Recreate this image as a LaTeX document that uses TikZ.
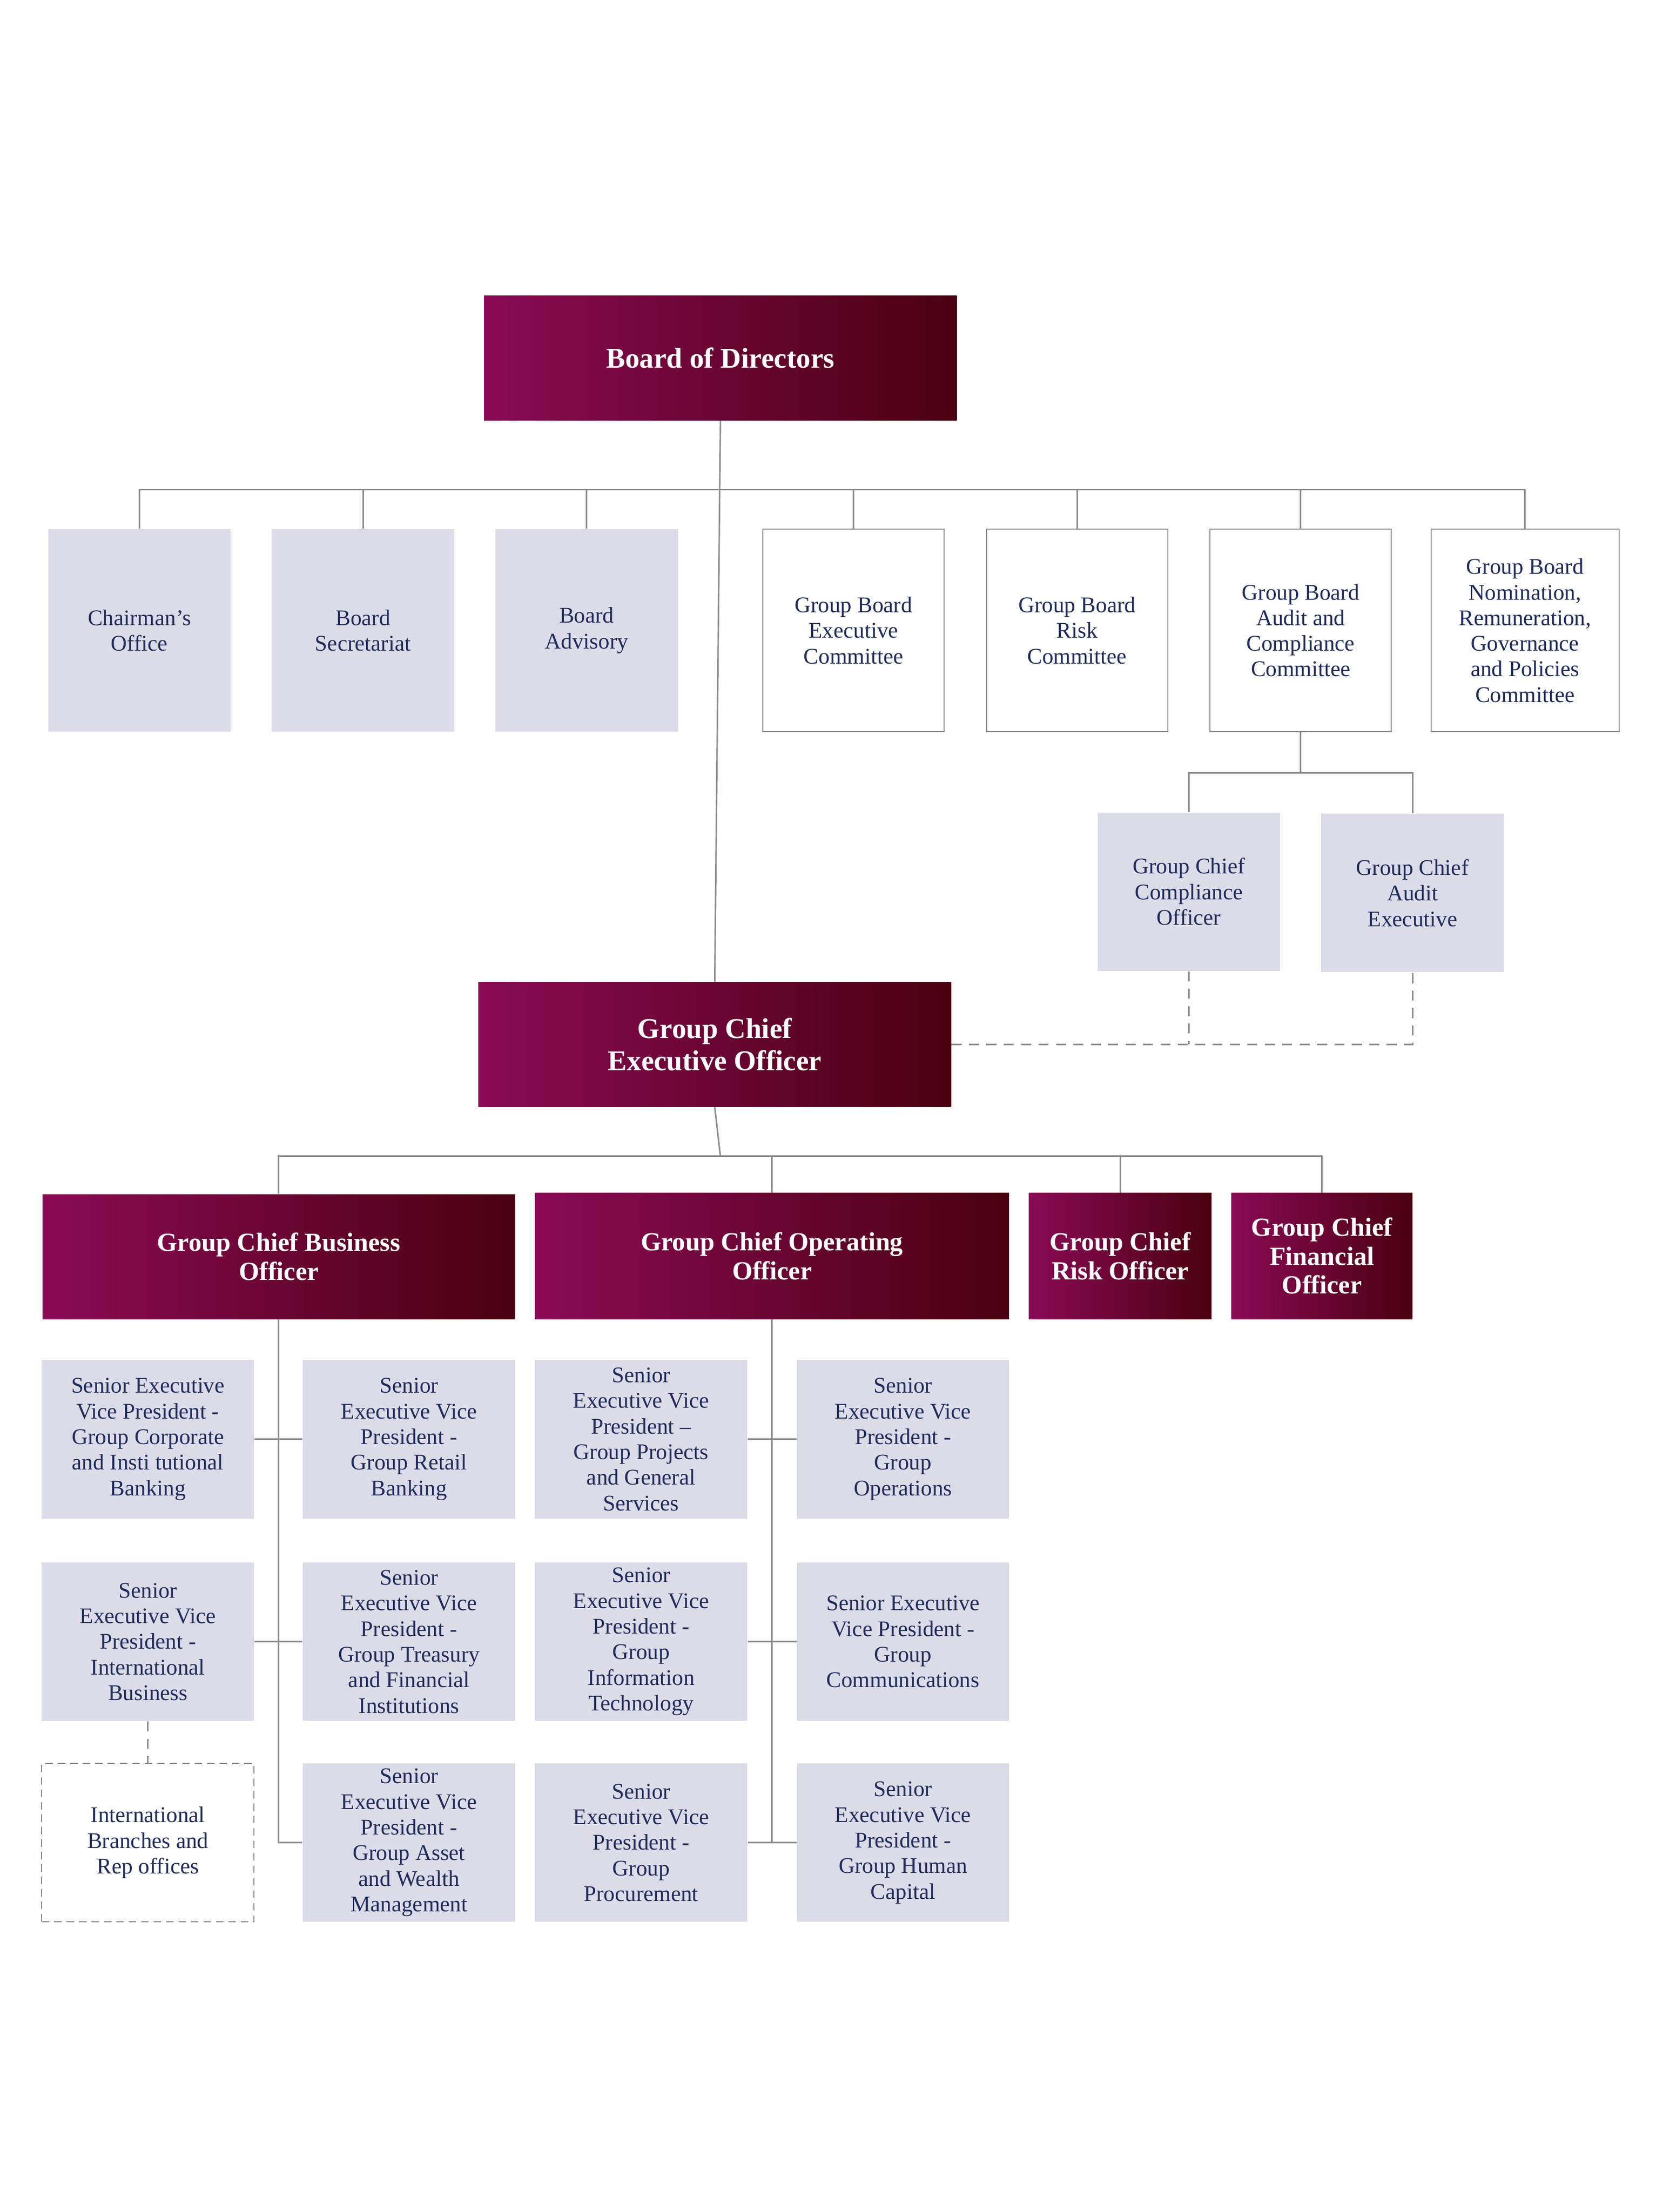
\documentclass[tikz,border=0pt]{standalone}
\usepackage{fontspec}
\setmainfont{Liberation Serif}
\usetikzlibrary{positioning}
\definecolor{lav}{HTML}{DCDCE8}
\definecolor{navy}{HTML}{1F2A5C}
\definecolor{wine}{HTML}{8A0A55}
\definecolor{maroon}{HTML}{4A0010}
\definecolor{wire}{HTML}{8C8C8C}

\tikzset{
  head/.style={left color=wine, right color=maroon, text=white, font=\fontsize{10.5}{11.6}\selectfont\bfseries, align=center, inner sep=0pt},
  lavbox/.style={fill=lav, text=navy, font=\fontsize{9}{10.3}\selectfont, align=center, inner sep=0pt, minimum width=3cm, minimum height=2.24cm},
  comm/.style={draw=wire, fill=white, text=navy, font=\fontsize{9}{10.3}\selectfont, align=center, inner sep=0pt, minimum width=2.56cm, minimum height=2.86cm},
  top/.style={lavbox, minimum width=2.58cm, minimum height=2.86cm},
  line/.style={draw=wire, line width=0.6pt},
  dline/.style={line, dash pattern=on 4pt off 3pt}
}

\begin{document}
\begin{tikzpicture}[x=0.02cm, y=-0.02cm]
\useasboundingbox (0,0) rectangle (1170,1563);

% board level
\node[head, minimum width=6.68cm, minimum height=1.76cm, font=\fontsize{11.5}{13}\selectfont\bfseries] (bod) at (509,253) {Board of Directors};
\node[top] (chair) at (98.5,445.5) {Chairman's\\Office};
\node[top] (sec) at (256.5,445.5) {Board\\Secretariat};
\node[top] (adv) at (414.5,445.5) {Board\\Advisory};
\node[comm] (exec) at (603,445.5) {Group Board\\Executive\\Committee};
\node[comm] (risk) at (761,445.5) {Group Board\\Risk\\Committee};
\node[comm] (audit) at (919,445.5) {Group Board\\Audit and\\Compliance\\Committee};
\node[comm, minimum width=2.66cm] (nom) at (1077.5,445.5) {Group Board\\Nomination,\\Remuneration,\\Governance\\and Policies\\Committee};

\node[top, minimum height=2.24cm] (gcco) at (840,630) {Group Chief\\Compliance\\Officer};
\node[top, minimum height=2.24cm] (gcae) at (998,631) {Group Chief\\Audit\\Executive};

\node[head, minimum width=6.68cm, minimum height=1.76cm, font=\fontsize{11.5}{13}\selectfont\bfseries] (ceo) at (505,738) {Group Chief\\Executive Officer};

% chief officers
\node[head, minimum width=6.68cm, minimum height=1.76cm] (gcbo) at (197,888) {Group Chief Business\\Officer};
\node[head, minimum width=6.7cm, minimum height=1.78cm] (gcoo) at (545.5,887.5) {Group Chief Operating\\Officer};
\node[head, minimum width=2.58cm, minimum height=1.78cm] (gcro) at (791.5,887.5) {Group Chief\\Risk Officer};
\node[head, minimum width=2.56cm, minimum height=1.78cm] (gcfo) at (934,887.5) {Group Chief\\Financial\\Officer};

% senior executive vice presidents
\node[lavbox] (corp) at (104.5,1017) {Senior Executive\\Vice President -\\Group Corporate\\and Insti tutional\\Banking};
\node[lavbox] (retail) at (289,1017) {Senior\\Executive Vice\\President -\\Group Retail\\Banking};
\node[lavbox] (proj) at (453,1017) {Senior\\Executive Vice\\President –\\Group Projects\\and General\\Services};
\node[lavbox] (ops) at (638,1017) {Senior\\Executive Vice\\President -\\Group\\Operations};
\node[lavbox] (intl) at (104.5,1160) {Senior\\Executive Vice\\President -\\International\\Business};
\node[lavbox] (treas) at (289,1160) {Senior\\Executive Vice\\President -\\Group Treasury\\and Financial\\Institutions};
\node[lavbox] (it) at (453,1160) {Senior\\Executive Vice\\President -\\Group\\Information\\Technology};
\node[lavbox] (comms) at (638,1160) {Senior Executive\\Vice President -\\Group\\Communications};
\node[lavbox, fill=white, draw=wire, dash pattern=on 3pt off 2pt] (branch) at (104.5,1302) {International\\Branches and\\Rep offices};
\node[lavbox] (asset) at (289,1302) {Senior\\Executive Vice\\President -\\Group Asset\\and Wealth\\Management};
\node[lavbox] (proc) at (453,1302) {Senior\\Executive Vice\\President -\\Group\\Procurement};
\node[lavbox] (hr) at (638,1302) {Senior\\Executive Vice\\President -\\Group Human\\Capital};

% connectors
\coordinate (bus1) at (509,346);
\coordinate (bus2) at (919,546);
\coordinate (bus3) at (509,817);
\coordinate (dbus) at (840,738);
\draw[line] (bod.south) -- (ceo.north);
\draw[line] (chair.north) |- (bus1) -| (nom.north);
\foreach \n in {sec,adv,exec,risk,audit}
  \draw[line] (\n.north) -- (\n.north |- bus1);
\draw[line] (audit.south) -- (bus2);
\draw[line] (gcco.north) |- (bus2) -| (gcae.north);
\draw[dline] (ceo.east) -| (gcae.south);
\draw[dline] (gcco.south) -- (gcco.south |- dbus);
\draw[line] (ceo.south) -- (bus3);
\draw[line] (gcbo.north) |- (bus3) -| (gcfo.north);
\draw[line] (gcoo.north) -- (gcoo.north |- bus3);
\draw[line] (gcro.north) -- (gcro.north |- bus3);
\draw[line] (gcbo.south) -- (gcbo.south |- asset.west) -- (asset.west);
\draw[line] (corp.east) -- (retail.west);
\draw[line] (intl.east) -- (treas.west);
\draw[line] (gcoo.south) -- (gcoo.south |- proc.east) -- (proc.east);
\draw[line] (proc.east) -- (hr.west);
\draw[line] (proj.east) -- (ops.west);
\draw[line] (it.east) -- (comms.west);
\draw[dline] (intl.south) -- (branch.north);
\end{tikzpicture}
\end{document}
